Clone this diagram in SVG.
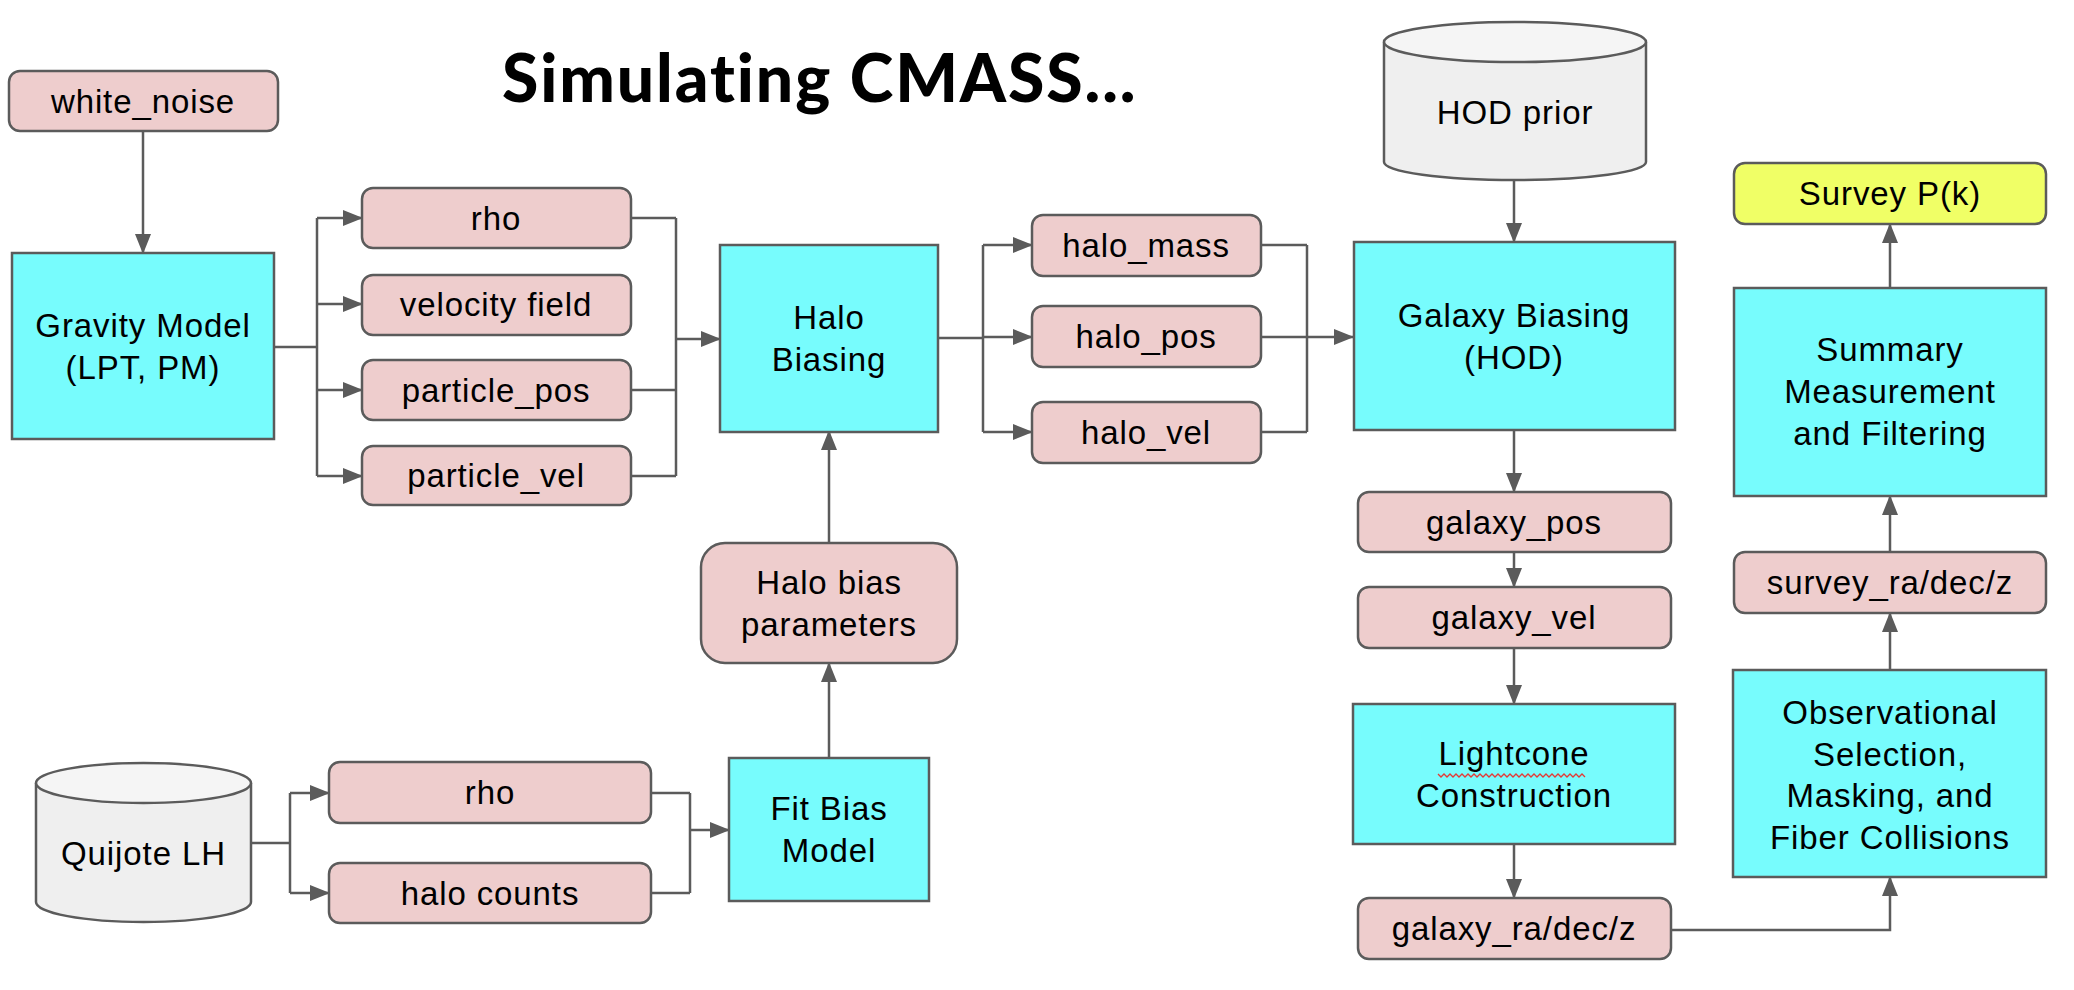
<svg xmlns="http://www.w3.org/2000/svg" width="2074" height="990" viewBox="0 0 2074 990">
<style>
.pk{fill:#eecdcd;stroke:#5b5b5b;stroke-width:2.5}
.cy{fill:#77fcfd;stroke:#5b5b5b;stroke-width:2.5}
.yl{fill:#f0ff66;stroke:#5b5b5b;stroke-width:2.5}
.db{fill:#efefef;stroke:#5b5b5b;stroke-width:2.5}
.dbt{fill:#f5f5f5;stroke:#5b5b5b;stroke-width:2.5}
.t{font-family:"Liberation Sans",Arial,sans-serif;font-size:33px;letter-spacing:0.9px;fill:#000;text-anchor:middle}
.c{fill:none;stroke:#5b5b5b;stroke-width:2.5}
.title{font-family:Lato,"Liberation Sans",sans-serif;font-weight:900;font-size:66px;letter-spacing:1.9px;font-variant-ligatures:none;fill:#000}
</style>
<defs>
<marker id="ah" markerUnits="userSpaceOnUse" markerWidth="20" markerHeight="16" refX="19" refY="8" orient="auto">
<path d="M0,0 L20,8 L0,16 Z" fill="#5b5b5b"/>
</marker>
</defs>
<rect width="2074" height="990" fill="#fff"/>
<text class="title" x="502" y="102">Simulating CMASS...</text>

<g id="connectors">
<path class="c" d="M143,131 V253" marker-end="url(#ah)"/>
<path class="c" d="M274,347 H317"/>
<path class="c" d="M317,218 V476"/>
<path class="c" d="M317,218 H362" marker-end="url(#ah)"/>
<path class="c" d="M317,304 H362" marker-end="url(#ah)"/>
<path class="c" d="M317,390 H362" marker-end="url(#ah)"/>
<path class="c" d="M317,476 H362" marker-end="url(#ah)"/>
<path class="c" d="M631,218 H676 M631,390 H676 M631,476 H676 M676,218 V476"/>
<path class="c" d="M676,339 H720" marker-end="url(#ah)"/>
<path class="c" d="M938,338 H983 M983,245 V432"/>
<path class="c" d="M983,245 H1032" marker-end="url(#ah)"/>
<path class="c" d="M983,337 H1032" marker-end="url(#ah)"/>
<path class="c" d="M983,432 H1032" marker-end="url(#ah)"/>
<path class="c" d="M1261,245 H1307 M1261,432 H1307 M1307,245 V432"/>
<path class="c" d="M1261,337 H1353" marker-end="url(#ah)"/>
<path class="c" d="M1514,180 V242" marker-end="url(#ah)"/>
<path class="c" d="M1514,430 V492" marker-end="url(#ah)"/>
<path class="c" d="M1514,552 V587" marker-end="url(#ah)"/>
<path class="c" d="M1514,648 V704" marker-end="url(#ah)"/>
<path class="c" d="M1514,844 V898" marker-end="url(#ah)"/>
<path class="c" d="M1671,930 H1890 V877" marker-end="url(#ah)"/>
<path class="c" d="M1890,670 V613" marker-end="url(#ah)"/>
<path class="c" d="M1890,552 V496" marker-end="url(#ah)"/>
<path class="c" d="M1890,288 V224" marker-end="url(#ah)"/>
<path class="c" d="M251,843 H290 M290,793 V893"/>
<path class="c" d="M290,793 H329" marker-end="url(#ah)"/>
<path class="c" d="M290,893 H329" marker-end="url(#ah)"/>
<path class="c" d="M651,793 H690 M651,893 H690 M690,793 V893"/>
<path class="c" d="M690,830 H729" marker-end="url(#ah)"/>
<path class="c" d="M829,758 V663" marker-end="url(#ah)"/>
<path class="c" d="M829,543 V431" marker-end="url(#ah)"/>
</g>

<g id="white_noise"><rect class="pk" x="9" y="71" width="269" height="60" rx="11"/><text class="t" x="143" y="113">white_noise</text></g>
<g id="gravity_model"><rect class="cy" x="12" y="253" width="262" height="186"/><text class="t" x="143" y="337">Gravity Model</text><text class="t" x="143" y="379">(LPT, PM)</text></g>
<g id="rho"><rect class="pk" x="362" y="188" width="269" height="60" rx="11"/><text class="t" x="496" y="230">rho</text></g>
<g id="velocity_field"><rect class="pk" x="362" y="275" width="269" height="60" rx="11"/><text class="t" x="496" y="316">velocity field</text></g>
<g id="particle_pos"><rect class="pk" x="362" y="360" width="269" height="60" rx="11"/><text class="t" x="496" y="402">particle_pos</text></g>
<g id="particle_vel"><rect class="pk" x="362" y="446" width="269" height="59" rx="11"/><text class="t" x="496" y="487">particle_vel</text></g>
<g id="halo_biasing"><rect class="cy" x="720" y="245" width="218" height="187"/><text class="t" x="829" y="329">Halo</text><text class="t" x="829" y="371">Biasing</text></g>
<g id="halo_mass"><rect class="pk" x="1032" y="215" width="229" height="61" rx="11"/><text class="t" x="1146" y="257">halo_mass</text></g>
<g id="halo_pos"><rect class="pk" x="1032" y="306" width="229" height="61" rx="11"/><text class="t" x="1146" y="348">halo_pos</text></g>
<g id="halo_vel"><rect class="pk" x="1032" y="402" width="229" height="61" rx="11"/><text class="t" x="1146" y="444">halo_vel</text></g>
<g id="hod_prior"><path class="db" d="M1384,42 V162 A131,18 0 0 0 1646,162 V42"/><ellipse class="dbt" cx="1515" cy="42" rx="131" ry="20"/><text class="t" x="1515" y="124">HOD prior</text></g>
<g id="galaxy_biasing"><rect class="cy" x="1354" y="242" width="321" height="188"/><text class="t" x="1514" y="327">Galaxy Biasing</text><text class="t" x="1514" y="369">(HOD)</text></g>
<g id="galaxy_pos"><rect class="pk" x="1358" y="492" width="313" height="60" rx="11"/><text class="t" x="1514" y="534">galaxy_pos</text></g>
<g id="galaxy_vel"><rect class="pk" x="1358" y="587" width="313" height="61" rx="11"/><text class="t" x="1514" y="629">galaxy_vel</text></g>
<g id="lightcone"><rect class="cy" x="1353" y="704" width="322" height="140"/><text class="t" x="1514" y="765">Lightcone</text><path d="M1438,774 l3,3 l3,-3 l3,3 l3,-3 l3,3 l3,-3 l3,3 l3,-3 l3,3 l3,-3 l3,3 l3,-3 l3,3 l3,-3 l3,3 l3,-3 l3,3 l3,-3 l3,3 l3,-3 l3,3 l3,-3 l3,3 l3,-3 l3,3 l3,-3 l3,3 l3,-3 l3,3 l3,-3 l3,3 l3,-3 l3,3 l3,-3 l3,3 l3,-3 l3,3 l3,-3 l3,3 l3,-3 l3,3 l3,-3 l3,3 l3,-3 l3,3 l3,-3 l3,3 l3,-3 l3,3" fill="none" stroke="#e53935" stroke-width="1.3"/><text class="t" x="1514" y="807">Construction</text></g>
<g id="galaxy_radecz"><rect class="pk" x="1358" y="898" width="313" height="61" rx="11"/><text class="t" x="1514" y="940">galaxy_ra/dec/z</text></g>
<g id="survey_pk"><rect class="yl" x="1734" y="163" width="312" height="61" rx="11"/><text class="t" x="1890" y="205">Survey P(k)</text></g>
<g id="summary"><rect class="cy" x="1734" y="288" width="312" height="208"/><text class="t" x="1890" y="361">Summary</text><text class="t" x="1890" y="403">Measurement</text><text class="t" x="1890" y="445">and Filtering</text></g>
<g id="survey_radecz"><rect class="pk" x="1734" y="552" width="312" height="61" rx="11"/><text class="t" x="1890" y="594">survey_ra/dec/z</text></g>
<g id="observational"><rect class="cy" x="1733" y="670" width="313" height="207"/><text class="t" x="1890" y="724">Observational</text><text class="t" x="1890" y="766">Selection,</text><text class="t" x="1890" y="807">Masking, and</text><text class="t" x="1890" y="849">Fiber Collisions</text></g>
<g id="halo_bias_params"><rect class="pk" x="701" y="543" width="256" height="120" rx="24"/><text class="t" x="829" y="594">Halo bias</text><text class="t" x="829" y="636">parameters</text></g>
<g id="quijote_lh"><path class="db" d="M36,783 V902 A107.5,20 0 0 0 251,902 V783"/><ellipse class="dbt" cx="143.5" cy="783" rx="107.5" ry="20"/><text class="t" x="143.5" y="865">Quijote LH</text></g>
<g id="rho_2"><rect class="pk" x="329" y="762" width="322" height="61" rx="11"/><text class="t" x="490" y="804">rho</text></g>
<g id="halo_counts"><rect class="pk" x="329" y="863" width="322" height="60" rx="11"/><text class="t" x="490" y="905">halo counts</text></g>
<g id="fit_bias"><rect class="cy" x="729" y="758" width="200" height="143"/><text class="t" x="829" y="820">Fit Bias</text><text class="t" x="829" y="862">Model</text></g>
</svg>
